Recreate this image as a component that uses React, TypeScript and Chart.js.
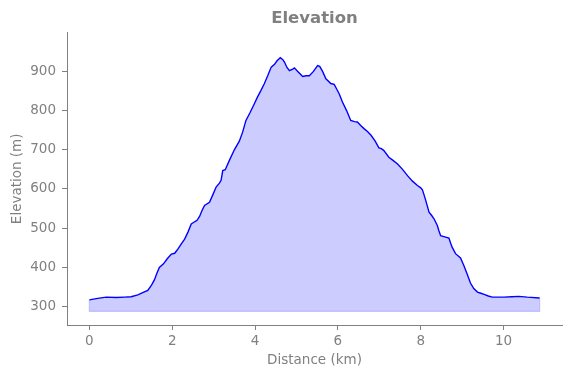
import { useEffect, useRef } from "react";
import { Chart, registerables } from "chart.js";

Chart.register(...registerables);

const distanceKm = [
  0.0, 0.2, 0.41, 0.65, 0.85, 1.01, 1.17, 1.3, 1.41, 1.5, 1.57, 1.63, 1.69, 1.79, 1.88, 1.98, 2.06, 2.14, 2.22, 2.3,
  2.38, 2.46, 2.55, 2.6, 2.66, 2.72, 2.78, 2.9, 2.98, 3.06, 3.14, 3.18, 3.22, 3.28, 3.38, 3.5, 3.62, 3.7, 3.78, 3.88,
  3.98, 4.06, 4.14, 4.22, 4.31, 4.39, 4.47, 4.53, 4.61, 4.67, 4.71, 4.77, 4.83, 4.91, 4.95, 5.03, 5.15, 5.23, 5.31, 5.41,
  5.51, 5.56, 5.63, 5.71, 5.83, 5.91, 5.97, 6.03, 6.11, 6.21, 6.31, 6.4, 6.47, 6.55, 6.63, 6.72, 6.8, 6.9, 6.99, 7.05,
  7.11, 7.23, 7.33, 7.44, 7.56, 7.68, 7.8, 7.92, 8.0, 8.04, 8.08, 8.12, 8.2, 8.26, 8.32, 8.4, 8.44, 8.48, 8.58, 8.68,
  8.72, 8.76, 8.84, 8.96, 9.04, 9.12, 9.2, 9.28, 9.37, 9.45, 9.53, 9.63, 9.73, 10.01, 10.2, 10.37, 10.57, 10.87,
];

const elevationM = [
  317, 321, 324, 323, 324, 325, 330, 336, 341, 355, 368, 385, 400, 409, 422, 434, 436, 447, 460, 472,
  490, 511, 517, 520, 530, 545, 558, 566, 585, 605, 615, 622, 647, 649, 673, 700, 722, 745, 775, 795,
  817, 835, 851, 868, 890, 911, 918, 927, 935, 930, 924, 910, 902, 906, 909, 900, 887, 889, 889, 900,
  915, 913, 900, 881, 869, 867, 855, 843, 822, 800, 775, 772, 771, 762, 754, 746, 737, 722, 705, 703,
  698, 681, 673, 664, 650, 634, 620, 609, 603, 598, 585, 571, 541, 533, 524, 507, 493, 481, 478, 475,
  462, 451, 435, 424, 405, 383, 360, 346, 337, 334, 331, 327, 324, 324, 325, 326, 324, 322,
];

const fillBase = 288;
const xTicks = [0, 2, 4, 6, 8, 10];
const yTicks = [300, 400, 500, 600, 700, 800, 900];

const GRAY = "#808080";
const FONT = "'DejaVu Sans', sans-serif";

export default function App() {
  const ref = useRef<HTMLCanvasElement>(null);

  useEffect(() => {
    if (!ref.current) return;
    const pts = distanceKm.map((x, i) => ({ x, y: elevationM[i] }));
    const last = distanceKm.length - 1;
    const edge = [
      { x: distanceKm[0], y: elevationM[0] },
      { x: distanceKm[0], y: fillBase },
      { x: distanceKm[last], y: fillBase },
      { x: distanceKm[last], y: elevationM[last] },
    ];
    const chart = new Chart(ref.current, {
      type: "line",
      data: {
        datasets: [
          {
            data: pts,
            borderColor: "#0000ff",
            borderWidth: 1.4,
            pointRadius: 0,
            fill: { value: fillBase },
            backgroundColor: "rgba(0,0,255,0.2)",
            tension: 0,
          },
          {
            data: edge,
            borderColor: "rgba(0,0,255,0.2)",
            borderWidth: 1.2,
            pointRadius: 0,
            fill: false,
            tension: 0,
          },
        ],
      },
      options: {
        responsive: false,
        animation: false,
        devicePixelRatio: 1,
        layout: { padding: { left: 0, right: 9, top: 0, bottom: 0 } },
        plugins: {
          legend: { display: false },
          tooltip: { enabled: false },
          title: {
            display: true,
            fullSize: false,
            text: "Elevation",
            color: GRAY,
            font: { family: FONT, size: 16.5, weight: "bold" },
            padding: { top: 8.4, bottom: 4.4 },
          },
        },
        scales: {
          x: {
            type: "linear",
            min: -0.54,
            max: 11.41,
            afterBuildTicks: (s: any) => {
              s.ticks = xTicks.map((v) => ({ value: v }));
            },
            afterFit: (s: any) => {
              s.height = 53;
            },
            grid: { drawOnChartArea: false, drawTicks: true, tickLength: 5, tickColor: GRAY, color: GRAY },
            border: { display: true, color: GRAY, width: 1 },
            ticks: { color: GRAY, font: { family: FONT, size: 13.5 }, padding: 3, maxRotation: 0 },
            title: {
              display: true,
              text: "Distance (km)",
              color: GRAY,
              font: { family: FONT, size: 13.5 },
              padding: { top: 0, bottom: 9 },
            },
          },
          y: {
            type: "linear",
            min: 253,
            max: 999,
            afterBuildTicks: (s: any) => {
              s.ticks = yTicks.map((v) => ({ value: v }));
            },
            afterFit: (s: any) => {
              s.width = 67;
            },
            grid: { drawOnChartArea: false, drawTicks: true, tickLength: 5, tickColor: GRAY, color: GRAY },
            border: { display: true, color: GRAY, width: 1 },
            ticks: { color: GRAY, font: { family: FONT, size: 13.5 }, padding: 6 },
            title: {
              display: true,
              text: "Elevation (m)",
              color: GRAY,
              font: { family: FONT, size: 13.5 },
              padding: { top: 9, bottom: 0 },
            },
          },
        },
      },
    });
    return () => chart.destroy();
  }, []);

  return (
    <div style={{ position: "absolute", left: 0, top: 0, width: 571, height: 378, background: "#fff" }}>
      <canvas ref={ref} width={571} height={378} style={{ display: "block" }} />
    </div>
  );
}
